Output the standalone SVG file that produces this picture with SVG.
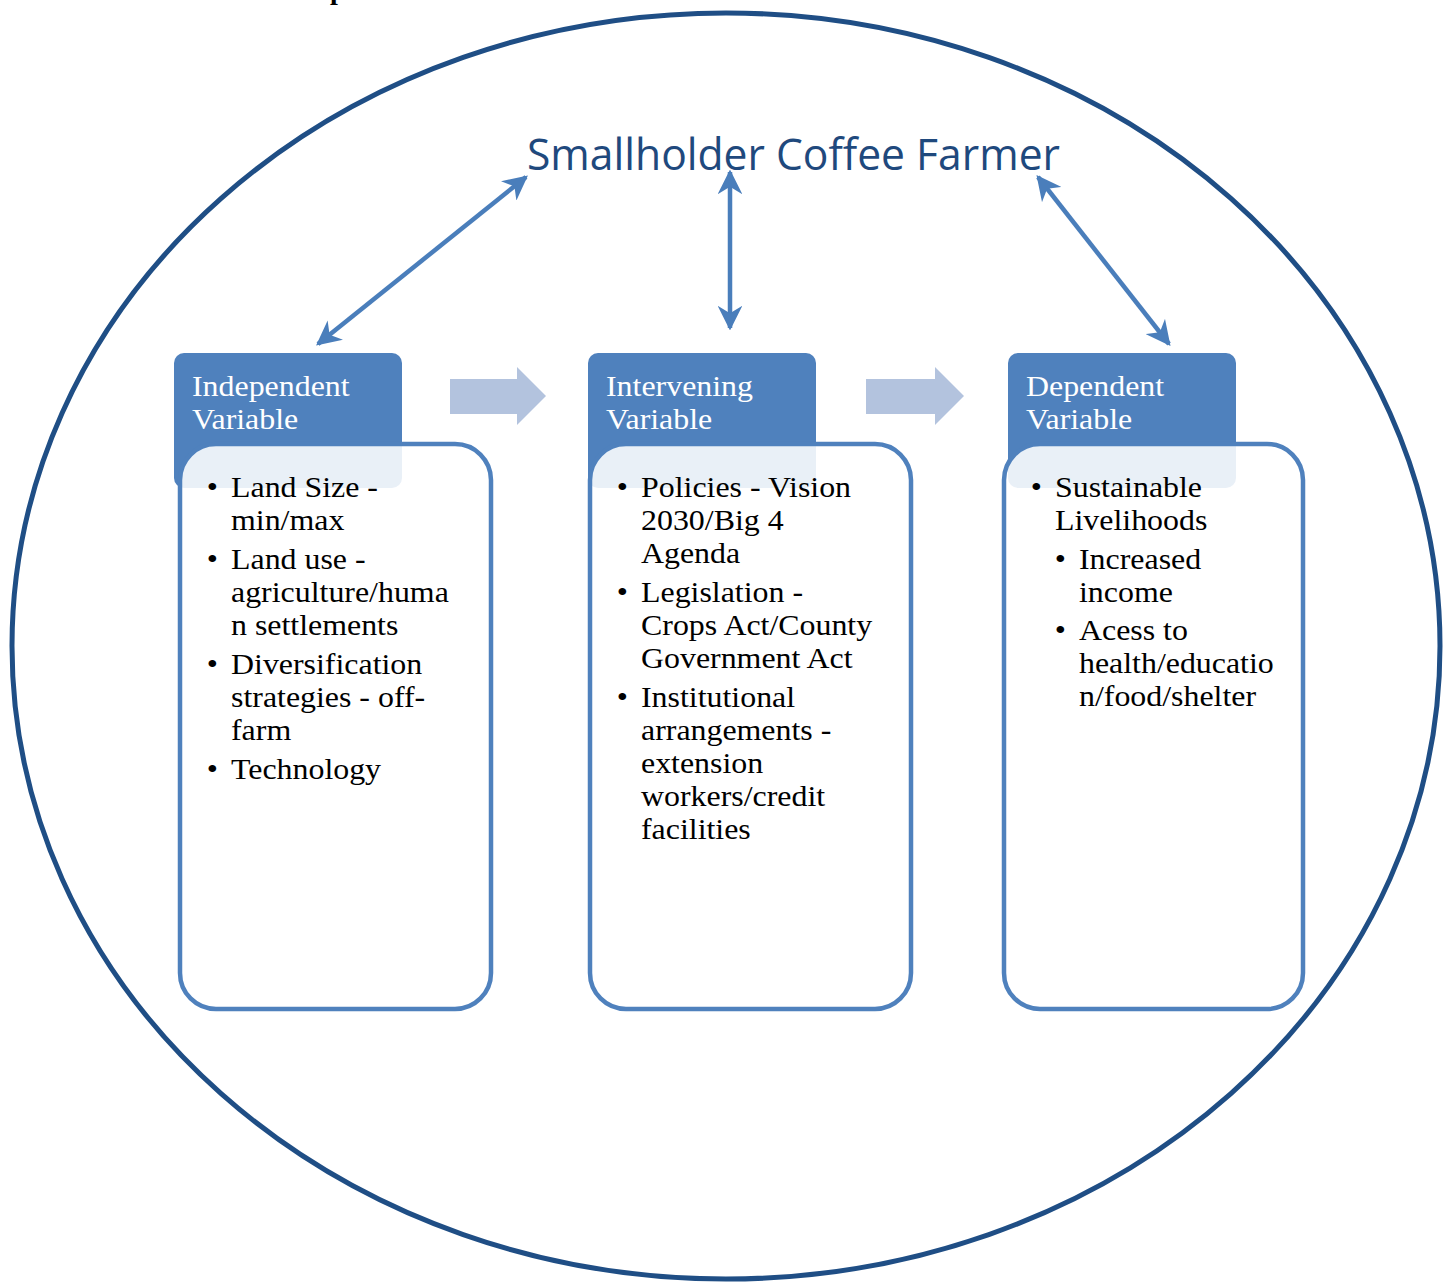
<svg xmlns="http://www.w3.org/2000/svg" width="1447" height="1282" viewBox="0 0 1447 1282">
<defs>
<style>
.hdr{fill:#4F81BD;}
.box{fill:#FFFFFF;fill-opacity:0.88;stroke:#4F81BD;stroke-width:4.5;}
.ht{font-family:"Liberation Serif",serif;font-size:29px;fill:#FFFFFF;}
.bt{font-family:"Liberation Serif",serif;font-size:29px;fill:#000000;}
.conn{stroke:#4A7EBB;stroke-width:4.5;fill:none;}
.blk{fill:#B3C3DE;}
</style>
<marker id="ah" viewBox="0 0 10 10" refX="9" refY="5" markerWidth="5.5" markerHeight="5.5" orient="auto-start-reverse" markerUnits="strokeWidth">
<path d="M0,0 L10,5 L0,10 L3,5 Z" fill="#4A7EBB"/>
</marker>
</defs>
<rect width="1447" height="1282" fill="#FFFFFF"/>
<text x="330" y="-1" font-family="Liberation Serif,serif" font-weight="bold" font-size="28" fill="#000">p</text>
<ellipse cx="726" cy="646" rx="714" ry="633" fill="none" stroke="#1F4E85" stroke-width="5"/>
<g id="title">
<text x="527" y="170" font-family="Open Sans,sans-serif" font-size="43" fill="#1F497D" textLength="533" lengthAdjust="spacingAndGlyphs">Smallholder Coffee Farmer</text>
</g>
<g id="connectors">
<line class="conn" x1="526" y1="177" x2="318" y2="344" marker-start="url(#ah)" marker-end="url(#ah)"/>
<line class="conn" x1="730" y1="172" x2="730" y2="328" marker-start="url(#ah)" marker-end="url(#ah)"/>
<line class="conn" x1="1038" y1="177" x2="1169" y2="344" marker-start="url(#ah)" marker-end="url(#ah)"/>
<path class="blk" d="M450,379 L517,379 L517,367 L546,396 L517,425 L517,414 L450,414 Z"/>
<path class="blk" d="M866,379 L935,379 L935,367 L964,396 L935,425 L935,414 L866,414 Z"/>
</g>
<g id="independent">
<rect class="hdr" x="174" y="353" width="228" height="135" rx="10"/>
<g transform="translate(192,0) scale(1.1,1)">
<text class="ht" x="0" y="396">Independent</text>
<text class="ht" x="0" y="429">Variable</text>
</g>
<rect class="box" x="180" y="444" width="311" height="565" rx="36"/>
<g transform="translate(231,0) scale(1.1,1)">
<text class="bt" x="-22" y="497">•</text>
<text class="bt" x="0" y="497">Land Size -</text>
<text class="bt" x="0" y="530">min/max</text>
<text class="bt" x="-22" y="569">•</text>
<text class="bt" x="0" y="569">Land use -</text>
<text class="bt" x="0" y="602">agriculture/huma</text>
<text class="bt" x="0" y="635">n settlements</text>
<text class="bt" x="-22" y="674">•</text>
<text class="bt" x="0" y="674">Diversification</text>
<text class="bt" x="0" y="707">strategies - off-</text>
<text class="bt" x="0" y="740">farm</text>
<text class="bt" x="-22" y="779">•</text>
<text class="bt" x="0" y="779">Technology</text>
</g>
</g>
<g id="intervening">
<rect class="hdr" x="588" y="353" width="228" height="135" rx="10"/>
<g transform="translate(606,0) scale(1.1,1)">
<text class="ht" x="0" y="396">Intervening</text>
<text class="ht" x="0" y="429">Variable</text>
</g>
<rect class="box" x="590" y="444" width="321" height="565" rx="36"/>
<g transform="translate(641,0) scale(1.1,1)">
<text class="bt" x="-22" y="497">•</text>
<text class="bt" x="0" y="497">Policies - Vision</text>
<text class="bt" x="0" y="530">2030/Big 4</text>
<text class="bt" x="0" y="563">Agenda</text>
<text class="bt" x="-22" y="602">•</text>
<text class="bt" x="0" y="602">Legislation -</text>
<text class="bt" x="0" y="635">Crops Act/County</text>
<text class="bt" x="0" y="668">Government Act</text>
<text class="bt" x="-22" y="707">•</text>
<text class="bt" x="0" y="707">Institutional</text>
<text class="bt" x="0" y="740">arrangements -</text>
<text class="bt" x="0" y="773">extension</text>
<text class="bt" x="0" y="806">workers/credit</text>
<text class="bt" x="0" y="839">facilities</text>
</g>
</g>
<g id="dependent">
<rect class="hdr" x="1008" y="353" width="228" height="135" rx="10"/>
<g transform="translate(1026,0) scale(1.1,1)">
<text class="ht" x="0" y="396">Dependent</text>
<text class="ht" x="0" y="429">Variable</text>
</g>
<rect class="box" x="1004" y="444" width="299" height="565" rx="36"/>
<g transform="translate(1055,0) scale(1.1,1)">
<text class="bt" x="-22" y="497">•</text>
<text class="bt" x="0" y="497">Sustainable</text>
<text class="bt" x="0" y="530">Livelihoods</text>
</g>
<g transform="translate(1079,0) scale(1.1,1)">
<text class="bt" x="-22" y="569">•</text>
<text class="bt" x="0" y="569">Increased</text>
<text class="bt" x="0" y="602">income</text>
<text class="bt" x="-22" y="640">•</text>
<text class="bt" x="0" y="640">Acess to</text>
<text class="bt" x="0" y="673">health/educatio</text>
<text class="bt" x="0" y="706">n/food/shelter</text>
</g>
</g>
</svg>
